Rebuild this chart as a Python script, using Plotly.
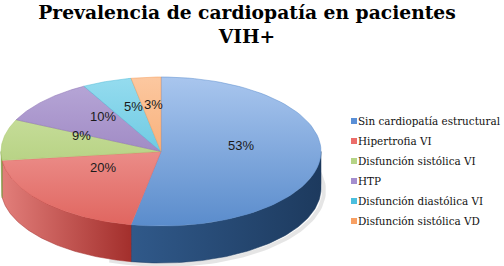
import numpy as np
import plotly.graph_objects as go

# ---- data ----
categories = ["Sin cardiopatía estructural", "Hipertrofia VI", "Disfunción sistólica VI",
              "HTP", "Disfunción diastólica VI", "Disfunción sistólica VD"]
values = [53, 20, 9, 10, 5, 3]
title_text = "Prevalencia de cardiopatía en pacientes<br>VIH+"

# ---- styles ----
top_light = ["#a9c6ee", "#f6b3b1", "#d2e6ab", "#b8a8d8", "#95dcef", "#fcc8a0"]
top_dark = ["#5a8ccc", "#e0655f", "#a4c468", "#8a6fb2", "#4ab9d6", "#f59a58"]
side_light = ["#30598a", "#e27e7a", "#93b456", "#7d62a0", "#3f9fb8", "#e8884a"]
side_dark = ["#1d3a5e", "#a32f2c", "#7f9e45", "#5f4880", "#2f8197", "#c86c30"]
legend_cols = ["#5a8fd6", "#ec6d6a", "#b5d486", "#a48ecf", "#4bbfde", "#f8a063"]

W, H = 504, 266
CX, CY, RX, RY, DEPTH = 161, 151.5, 160, 74.5, 37
LABEL_F, LABEL_DY = 0.5, -10


def pts(t0, t1, dy=0.0, n=80):
    th = np.radians(np.linspace(t0, t1, n))
    return CX + RX * np.sin(th), CY - RY * np.cos(th) + dy


total = float(sum(values))
bounds = np.concatenate([[0], np.cumsum(values)]) / total * 360.0

fig = go.Figure()

# soft shadow under the pie
xs_, ys_ = pts(60, 200, DEPTH + 2)
fig.add_trace(go.Scatter(x=xs_ + 3, y=ys_, mode="lines", line=dict(width=4, color="rgba(0,0,0,0.10)"),
                         showlegend=False, hoverinfo="skip"))

# side walls (front half only)
for i in range(len(values)):
    a, b = bounds[i], bounds[i + 1]
    s, e = max(a, 90.0), min(b, 270.0)
    if e <= s:
        continue
    xt, yt = pts(s, e)
    xb, yb = pts(e, s, DEPTH)
    xs = np.concatenate([xt, xb, xt[:1]])
    ys = np.concatenate([yt, yb, yt[:1]])
    fig.add_trace(go.Scatter(
        x=xs, y=ys, mode="lines", fill="toself",
        line=dict(width=0.5, color=side_dark[i]),
        fillgradient=dict(type="horizontal", start=float(xs.min()), stop=float(xs.max()),
                          colorscale=[[0, side_light[i]], [1, side_dark[i]]]),
        showlegend=False, hoverinfo="skip"))

# top faces
for i in range(len(values)):
    a, b = bounds[i], bounds[i + 1]
    xa, ya = pts(a, b)
    xs = np.concatenate([[CX], xa, [CX]])
    ys = np.concatenate([[CY], ya, [CY]])
    fig.add_trace(go.Scatter(
        x=xs, y=ys, mode="lines", fill="toself",
        line=dict(width=0.5, color=top_dark[i]),
        fillgradient=dict(type="vertical", start=CY - RY, stop=CY + RY,
                          colorscale=[[0, top_light[i]], [1, top_dark[i]]]),
        showlegend=False, hoverinfo="skip", name=categories[i]))

annotations = []
# percentage labels
for i, v in enumerate(values):
    mid = np.radians((bounds[i] + bounds[i + 1]) / 2)
    lx = CX + LABEL_F * RX * np.sin(mid)
    ly = CY + LABEL_DY - LABEL_F * RY * np.cos(mid)
    annotations.append(dict(x=lx, y=ly, xref="x", yref="y", text=f"{v}%", showarrow=False,
                            font=dict(family="Liberation Sans", size=13, color="#1a1a1a")))

# legend
shapes = []
LEG_X, LEG_Y0, LEG_STEP = 354, 121, 20
for i, name in enumerate(categories):
    yy = LEG_Y0 + i * LEG_STEP
    shapes.append(dict(type="rect", xref="x", yref="y", x0=LEG_X - 3, x1=LEG_X + 3,
                       y0=yy - 3, y1=yy + 3, fillcolor=legend_cols[i], line=dict(width=0)))
    annotations.append(dict(x=LEG_X + 2, y=yy, xref="x", yref="y", text=name, showarrow=False,
                            xanchor="left", yanchor="middle",
                            font=dict(family="DejaVu Serif", size=10.4, color="#111111")))

fig.update_layout(
    width=W, height=H, margin=dict(l=0, r=0, t=0, b=0),
    paper_bgcolor="white", plot_bgcolor="white",
    title=dict(text="<b>" + title_text + "</b>", x=247 / W, xanchor="center",
               y=1 - 18.5 / H, yanchor="middle", yref="container",
               font=dict(family="DejaVu Serif", size=18.7, color="#000000")),
    xaxis=dict(range=[0, W], visible=False, fixedrange=True),
    yaxis=dict(range=[H, 0], visible=False, fixedrange=True),
    annotations=annotations, shapes=shapes, showlegend=False,
    hovermode=False,
)

# remove the default 8px page margin so the figure fills the window exactly
fig.write_html("out.html", config={"displayModeBar": False},
               post_script="document.body.style.margin='0';")
